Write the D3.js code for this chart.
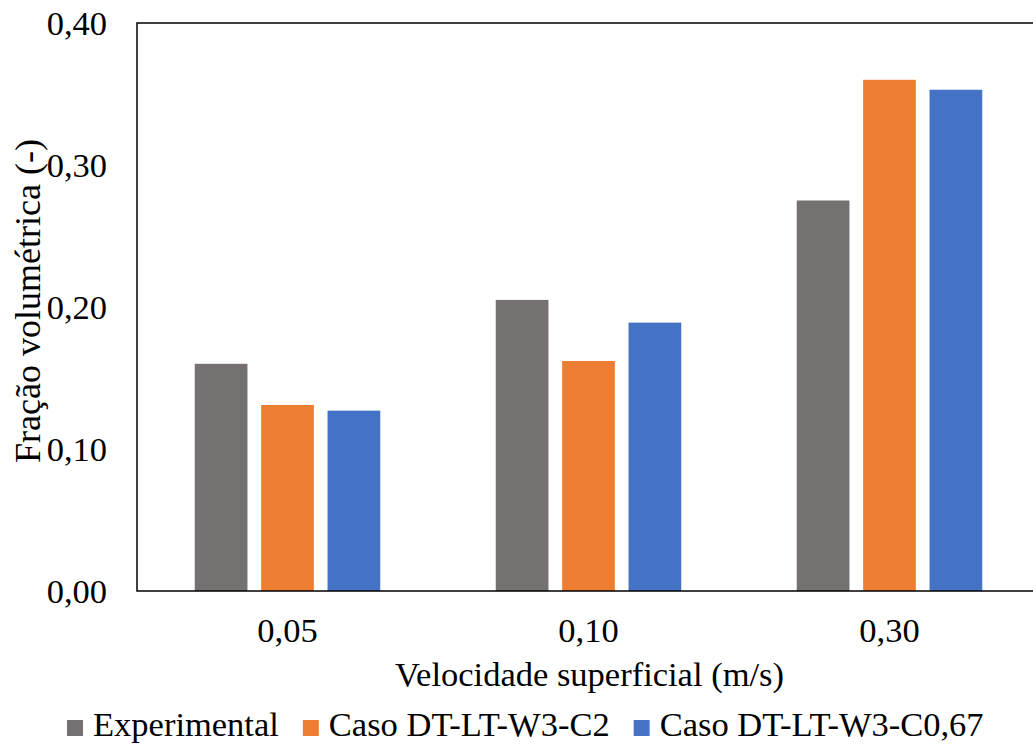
<!DOCTYPE html>
<html>
<head>
<meta charset="utf-8">
<script src="https://cdn.jsdelivr.net/npm/d3@7"></script>
<style>
  html, body { margin: 0; padding: 0; background: #fff; }
  svg { display: block; }
</style>
</head>
<body>
<svg id="chart" width="1033" height="746"></svg>
<script>
// Superficial velocity categories (m/s)
const categories = ["0,05", "0,10", "0,30"];
// Series names and colours
const seriesNames = ["Experimental", "Caso DT-LT-W3-C2", "Caso DT-LT-W3-C0,67"];
const seriesColors = ["#767171", "#ED7D31", "#4472C4"];
// Volume fraction per series, one value per category
const experimental = [0.160, 0.205, 0.275];
const casoC2 = [0.131, 0.162, 0.360];
const casoC067 = [0.127, 0.189, 0.353];
// Y axis ticks
const yTicks = [0, 0.1, 0.2, 0.3, 0.4];

const seriesValues = [experimental, casoC2, casoC067];
const rows = categories.map((c, i) => ({
  cat: c,
  vals: seriesNames.map((s, j) => ({ key: s, value: seriesValues[j][i], color: seriesColors[j] }))
}));

const FONT = "'Liberation Serif', 'Times New Roman', Tinos, 'DejaVu Serif', serif";
const svg = d3.select("#chart").attr("font-family", FONT);
const plot = { left: 137, top: 23, right: 1040, bottom: 591 };
const fontSize = 34.5;

const y = d3.scaleLinear().domain([0, 0.4]).range([plot.bottom, plot.top]);
const x0 = d3.scaleBand().domain(categories).range([plot.left, plot.right])
  .paddingInner(0.3837).paddingOuter(0.3837 / 2);
const x1 = d3.scaleBand().domain(seriesNames).range([0, x0.bandwidth()]).paddingInner(0.206);

const fmt = v => d3.format(".2f")(v).replace(".", ",");

// Bars
svg.append("g").selectAll("g").data(rows).join("g")
  .attr("transform", d => `translate(${x0(d.cat)},0)`)
  .selectAll("rect").data(d => d.vals).join("rect")
  .attr("x", d => x1(d.key))
  .attr("y", d => y(d.value))
  .attr("width", x1.bandwidth())
  .attr("height", d => y(0) - y(d.value))
  .attr("fill", d => d.color);

// Plot frame
svg.append("rect")
  .attr("x", plot.left).attr("y", plot.top)
  .attr("width", plot.right - plot.left).attr("height", plot.bottom - plot.top)
  .attr("fill", "none").attr("stroke", "#000").attr("stroke-width", 1.5);

// Y axis labels
const yAxis = d3.axisLeft(y).tickValues(yTicks).tickFormat(fmt).tickSize(0).tickPadding(30);
const yg = svg.append("g").attr("transform", `translate(${plot.left},0)`).call(yAxis)
  .attr("font-family", FONT).attr("font-size", fontSize);
yg.select(".domain").remove();
yg.selectAll("text").attr("fill", "#000").attr("dy", "0.34em");

// X axis labels
const xAxis = d3.axisBottom(x0).tickSize(0).tickPadding(0);
const xg = svg.append("g").attr("transform", `translate(0,${plot.bottom})`).call(xAxis)
  .attr("font-family", FONT).attr("font-size", fontSize);
xg.select(".domain").remove();
xg.selectAll("text").attr("fill", "#000").attr("dy", null).attr("y", 51);

// Axis titles
svg.append("text")
  .attr("x", (plot.left + plot.right) / 2 + 1).attr("y", 686)
  .attr("text-anchor", "middle").attr("font-size", fontSize)
  .text("Velocidade superficial (m/s)");

svg.append("text")
  .attr("transform", `translate(40,${(plot.top + plot.bottom) / 2 - 6}) rotate(-90)`)
  .attr("text-anchor", "middle").attr("font-size", 36)
  .text("Fração volumétrica (-)");

// Legend
const legend = svg.append("g");
let lx = 67;
seriesNames.forEach((name, i) => {
  legend.append("rect").attr("x", lx).attr("y", 720).attr("width", 16).attr("height", 16)
    .attr("fill", seriesColors[i]);
  const t = legend.append("text").attr("x", lx + 26).attr("y", 736)
    .attr("font-size", fontSize).text(name);
  lx += 26 + t.node().getComputedTextLength() + 24;
});
</script>
</body>
</html>
